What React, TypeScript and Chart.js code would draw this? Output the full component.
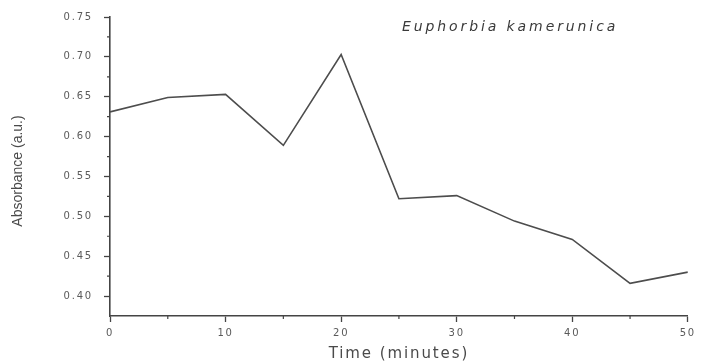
import React, { useEffect, useRef } from 'react';
import { Chart, registerables } from 'chart.js';

Chart.register(...registerables);

const times = [0, 5, 10, 15, 20, 25, 30, 35, 40, 45, 50];
const absorbance = [0.631, 0.649, 0.653, 0.589, 0.703, 0.522, 0.526, 0.494, 0.471, 0.416, 0.43];
const yTicks = [0.4, 0.45, 0.5, 0.55, 0.6, 0.65, 0.7, 0.75];
const yMinorTicks = [0.425, 0.475, 0.525, 0.575, 0.625, 0.675, 0.725];
const xTicks = [0, 10, 20, 30, 40, 50];
const xMinorTicks = [5, 15, 25, 35, 45];
const chartTitle = 'Euphorbia kamerunica';
const xTitle = 'Time (minutes)';
const yTitle = 'Absorbance (a.u.)';

const AXIS = '#444';
const TEXT = '#5a5a5a';

const spacingPlugin = {
  id: 'spacing',
  beforeUpdate(chart: any) {
    (chart.ctx as any).letterSpacing = '1.8px';
  },
  beforeDraw(chart: any) {
    (chart.ctx as any).letterSpacing = '1.8px';
  },
};

const decorPlugin = {
  id: 'decor',
  afterDraw(chart: any) {
    const ctx = chart.ctx;
    const { left, bottom } = chart.chartArea;
    const xs = chart.scales.x;
    const ys = chart.scales.y;
    ctx.save();
    ctx.strokeStyle = AXIS;
    ctx.lineWidth = 1.2;
    ctx.beginPath();
    yMinorTicks.forEach((v) => {
      const py = ys.getPixelForValue(v);
      ctx.moveTo(left - 3, py);
      ctx.lineTo(left, py);
    });
    xMinorTicks.forEach((v) => {
      const px = xs.getPixelForValue(v);
      ctx.moveTo(px, bottom);
      ctx.lineTo(px, bottom + 3);
    });
    ctx.stroke();

    ctx.fillStyle = '#3a3a3a';
    (ctx as any).letterSpacing = '2.9px';
    ctx.font = 'italic 14px "DejaVu Sans", sans-serif';
    ctx.textAlign = 'left';
    ctx.textBaseline = 'middle';
    ctx.fillText(chartTitle, 402, 27);

    ctx.fillStyle = '#4a4a4a';
    (ctx as any).letterSpacing = '1.9px';
    ctx.font = '15px "DejaVu Sans", sans-serif';
    ctx.textAlign = 'center';
    ctx.fillText(xTitle, (xs.left + xs.right) / 2, 354);

    (ctx as any).letterSpacing = '0px';
    ctx.font = '14px "Liberation Sans", Arial, sans-serif';
    ctx.translate(18, 171);
    ctx.rotate(-Math.PI / 2);
    ctx.fillText(yTitle, 0, 0);
    ctx.restore();
  },
};

export default function App() {
  const ref = useRef<HTMLCanvasElement | null>(null);

  useEffect(() => {
    if (!ref.current) return;
    const chart = new Chart(ref.current, {
      type: 'line',
      data: {
        datasets: [
          {
            data: times.map((t, i) => ({ x: t, y: absorbance[i] })),
            borderColor: '#4d4d4d',
            borderWidth: 1.6,
            pointRadius: 0,
            tension: 0,
            fill: false,
          },
        ],
      },
      options: {
        responsive: false,
        animation: false,
        devicePixelRatio: 1,
        layout: { padding: { top: 16, right: 9, left: 0, bottom: 0 } },
        plugins: {
          legend: { display: false },
          tooltip: { enabled: false },
        },
        scales: {
          x: {
            type: 'linear',
            min: 0,
            max: 50,
            afterBuildTicks: (s: any) => {
              s.ticks = xTicks.map((v) => ({ value: v }));
            },
            afterFit: (s: any) => {
              s.height = 46;
            },
            grid: {
              drawOnChartArea: false,
              tickLength: 6,
              tickColor: AXIS,
              tickWidth: 1.3,
            },
            border: { display: true, color: AXIS, width: 1.6 },
            ticks: {
              color: TEXT,
              padding: 5,
              maxRotation: 0,
              font: { family: '"DejaVu Sans", sans-serif', size: 10 },
              callback: (v: any) => String(v),
            },
          },
          y: {
            type: 'linear',
            min: 0.375,
            max: 0.75,
            afterBuildTicks: (s: any) => {
              s.ticks = yTicks.map((v) => ({ value: v }));
            },
            afterFit: (s: any) => {
              s.width = 110;
            },
            grid: {
              drawOnChartArea: false,
              tickLength: 6,
              tickColor: AXIS,
              tickWidth: 1.3,
            },
            border: { display: true, color: AXIS, width: 1.6 },
            ticks: {
              color: TEXT,
              padding: 11,
              font: { family: '"DejaVu Sans", sans-serif', size: 10 },
              callback: (v: any) => Number(v).toFixed(2),
            },
          },
        },
      },
      plugins: [spacingPlugin, decorPlugin],
    });
    return () => chart.destroy();
  }, []);

  return (
    <div style={{ position: 'absolute', left: 0, top: 0, width: 701, height: 362, background: '#fff' }}>
      <canvas ref={ref} width={701} height={362} style={{ display: 'block' }} />
    </div>
  );
}
